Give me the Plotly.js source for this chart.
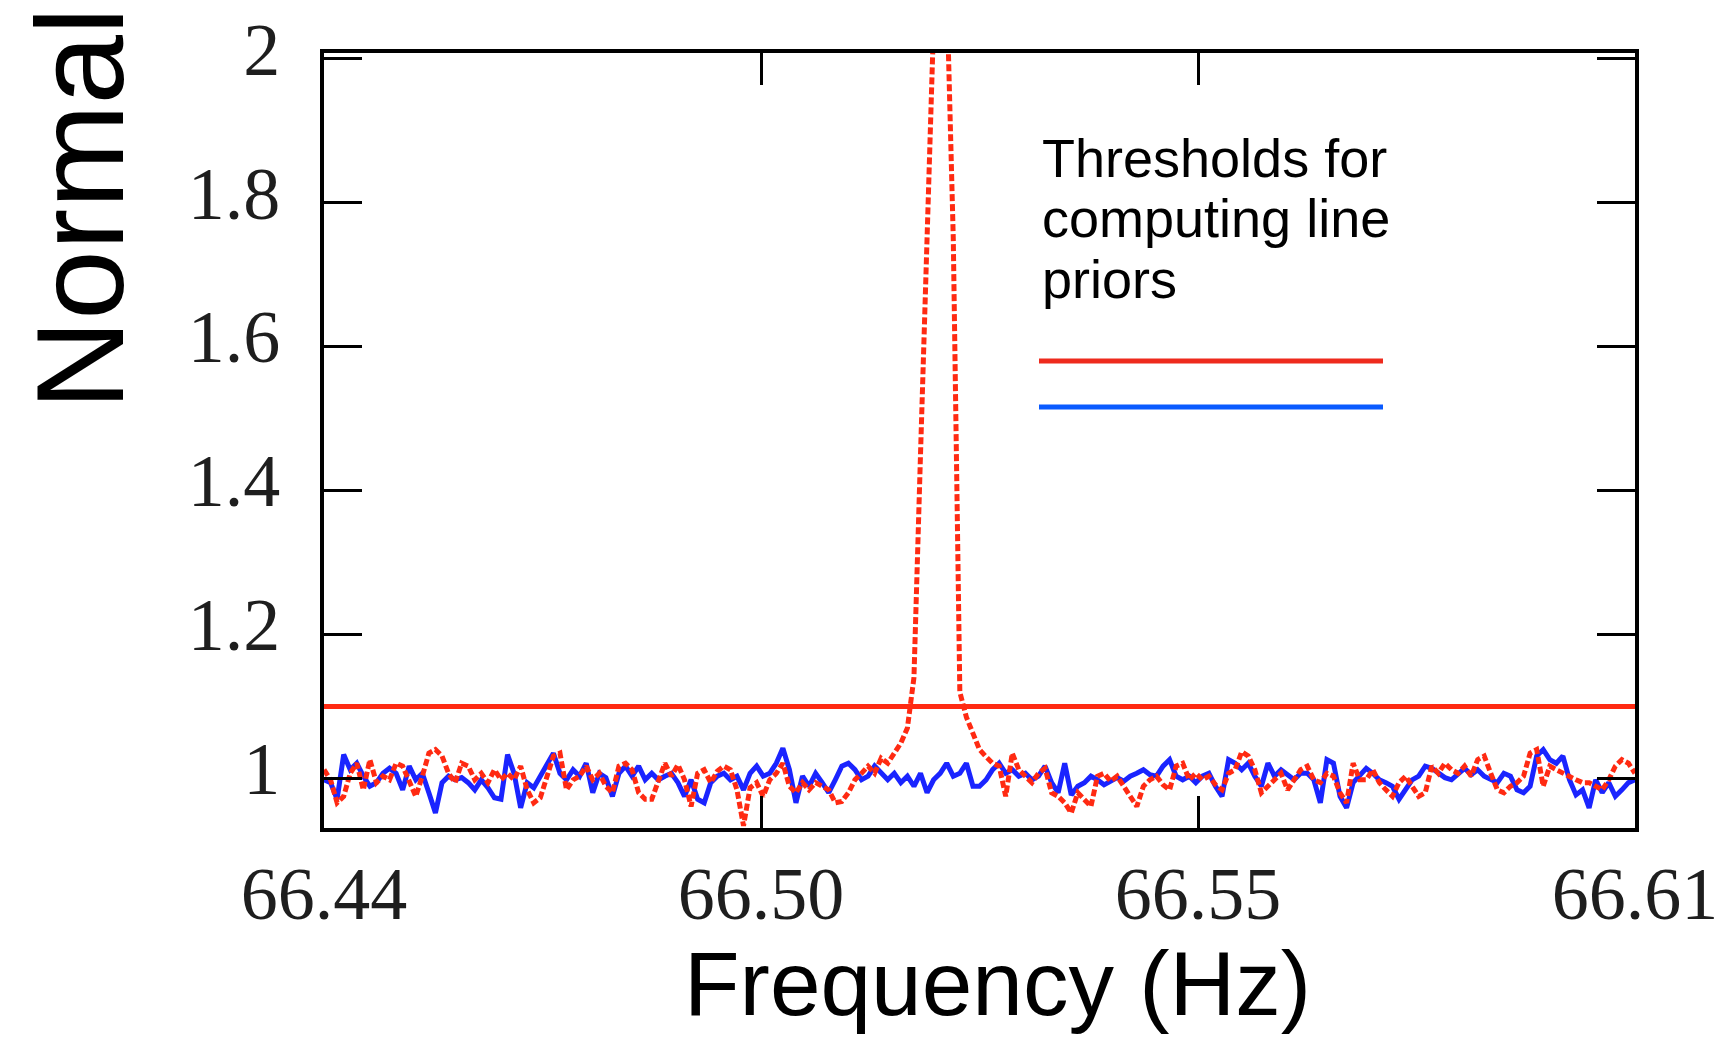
<!DOCTYPE html>
<html>
<head>
<meta charset="utf-8">
<script src="https://cdn.plot.ly/plotly-3.0.1.min.js"></script>
<style>html,body{margin:0;padding:0;background:#fff;}#chart{width:1732px;height:1041px;}</style>
</head>
<body>
<div id="chart"></div>
<script>
// Frequency grid (Hz)
const freqStart = 66.45;
const freqStep = 0.00075;

// Normalized power, blue series (solid)
const blueSeries = [
  0.998, 0.994, 0.971, 1.033, 1.012, 1.021, 1.003, 0.989, 0.994, 1.007,
  1.014, 1.007, 0.984, 1.017, 0.998, 1.007, 0.980, 0.952, 0.994, 1.003,
  0.998, 1.001, 0.994, 0.984, 0.998, 0.987, 0.973, 0.971, 1.033, 1.007,
  0.959, 0.994, 0.987, 1.003, 1.021, 1.035, 1.007, 0.998, 1.012, 1.003,
  1.021, 0.980, 1.007, 1.001, 0.975, 1.007, 1.017, 1.003, 1.017, 0.998,
  1.007, 0.998, 1.003, 1.007, 0.994, 0.975, 0.998, 0.971, 0.966, 0.994,
  1.003, 1.007, 0.998, 1.003, 0.984, 1.007, 1.017, 1.003, 1.007, 1.021,
  1.042, 1.012, 0.966, 1.003, 0.989, 1.007, 0.994, 0.980, 0.998, 1.017,
  1.021, 1.012, 0.998, 1.003, 1.017, 1.007, 0.998, 1.007, 0.994, 1.003,
  0.989, 1.007, 0.980, 0.998, 1.007, 1.021, 1.003, 1.007, 1.021, 0.989,
  0.989, 0.998, 1.012, 1.021, 1.007, 1.012, 1.003, 1.007, 0.998, 1.003,
  1.017, 0.994, 0.980, 1.021, 0.977, 0.989, 0.994, 1.003, 0.998, 0.991,
  0.996, 1.001, 0.996, 1.003, 1.007, 1.012, 1.005, 1.003, 1.017, 1.026,
  1.003, 0.998, 1.003, 0.994, 1.003, 1.007, 0.989, 0.975, 1.026, 1.021,
  1.012, 1.021, 1.003, 0.989, 1.021, 1.003, 1.012, 1.005, 0.998, 1.007,
  1.007, 0.998, 0.966, 1.026, 1.021, 0.975, 0.959, 0.994, 1.003, 1.014,
  1.007, 0.998, 0.994, 0.989, 0.971, 0.984, 0.998, 1.003, 1.017, 1.014,
  1.007, 1.001, 0.998, 1.007, 1.014, 1.005, 1.012, 1.003, 0.998, 0.994,
  1.007, 1.003, 0.984, 0.980, 0.989, 1.031, 1.040, 1.026, 1.021, 1.031,
  0.998, 0.977, 0.984, 0.959, 0.998, 0.980, 0.994, 0.975, 0.984, 0.994,
  0.998
];

// Normalized power, red series (dashed) with the spectral line
const redSeries = [
  1.012, 0.998, 0.966, 0.975, 1.007, 1.021, 0.984, 1.026, 0.994, 1.003,
  0.998, 1.021, 1.017, 0.994, 0.975, 1.003, 1.035, 1.040, 1.031, 1.007,
  0.994, 1.021, 1.017, 0.998, 1.007, 0.994, 1.012, 0.998, 1.007, 0.998,
  1.017, 0.984, 0.966, 0.973, 1.003, 1.031, 1.035, 0.984, 0.998, 1.003,
  1.017, 0.998, 1.007, 0.989, 0.980, 1.017, 1.021, 1.012, 0.980, 0.971,
  0.971, 0.998, 1.021, 1.003, 1.019, 0.998, 0.961, 1.007, 1.012, 0.994,
  1.010, 1.017, 1.012, 0.984, 0.934, 0.987, 0.994, 0.975, 0.998, 1.007,
  1.021, 0.989, 0.980, 0.994, 0.984, 0.994, 0.989, 0.984, 0.966, 0.968,
  0.980, 0.998, 1.007, 1.017, 1.007, 1.028, 1.021, 1.035, 1.049, 1.070,
  1.140, 1.450, 1.750, 2.050, 3.500, 2.100, 1.750, 1.120, 1.085, 1.060,
  1.040, 1.030, 1.021, 1.017, 0.975, 1.035, 1.012, 1.003, 0.994, 1.007,
  1.014, 0.980, 0.975, 0.966, 0.952, 0.980, 0.971, 0.961, 1.003, 1.007,
  0.996, 1.003, 0.989, 0.975, 0.961, 0.989, 0.998, 1.003, 0.991, 0.984,
  1.017, 1.021, 0.998, 1.007, 0.998, 1.003, 0.991, 0.984, 1.007, 1.012,
  1.037, 1.031, 1.012, 0.980, 0.989, 0.998, 1.007, 0.984, 0.998, 1.012,
  1.017, 0.998, 0.994, 1.007, 1.003, 0.980, 0.966, 1.021, 0.998, 0.998,
  1.012, 0.994, 0.984, 0.975, 0.994, 1.003, 0.989, 0.975, 0.980, 1.017,
  1.007, 1.021, 1.012, 1.007, 1.017, 1.003, 1.026, 1.031, 1.007, 0.984,
  0.980, 0.989, 0.994, 1.003, 1.035, 1.040, 0.989, 1.017, 1.012, 1.007,
  1.003, 0.998, 0.994, 0.994, 0.989, 0.984, 0.998, 1.017, 1.026, 1.021,
  1.007
];

// Threshold level for both series
const thresholdLevel = 1.1;

// Tick positions and labels
const xTickVals = [66.45, 66.50, 66.55, 66.60];
const xTickText = ["66.44", "66.50", "66.55", "66.61"];
const yTickVals = [1.0, 1.2, 1.4, 1.6, 1.8, 2.0];
const yTickText = ["1", "1.2", "1.4", "1.6", "1.8", "2"];

// Texts
const xTitle = "Frequency (Hz)";
const yTitle = "Normal";
const legendLines = ["Thresholds for", "computing line", "priors"];

const freq = blueSeries.map((_, i) => +(freqStart + i * freqStep).toFixed(5));
const thrX = [freq[0], freq[freq.length - 1]];

const RED = "#ff2a12";
const BLUE = "#1a24ff";

const traces = [
  {x: freq, y: blueSeries, type: "scatter", mode: "lines",
   line: {color: BLUE, width: 5}, hoverinfo: "skip"},
  {x: freq, y: redSeries, type: "scatter", mode: "lines",
   line: {color: RED, width: 5, dash: "7px,3px"}, hoverinfo: "skip"},
  {x: thrX, y: [thresholdLevel, thresholdLevel], type: "scatter", mode: "lines",
   line: {color: BLUE, width: 4}, hoverinfo: "skip"},
  {x: thrX, y: [thresholdLevel, thresholdLevel], type: "scatter", mode: "lines",
   line: {color: RED, width: 5}, hoverinfo: "skip"}
];

const sans = "Liberation Sans, Arial, Helvetica, sans-serif";
const serif = "Liberation Serif, Times New Roman, serif";

const PL = 324, PR = 97, PT = 53, PB = 213;
const W = 1732, H = 1041;
const pw = W - PL - PR, ph = H - PT - PB;
const px = v => (v - PL) / pw;      // pixel x -> paper
const py = v => (H - PB - v) / ph;  // pixel y -> paper

const annotations = [
  {text: xTitle, xref: "paper", yref: "paper", x: px(997), y: py(983),
   xanchor: "center", yanchor: "middle", showarrow: false,
   font: {family: sans, size: 91, color: "#000"}},
  {text: yTitle, xref: "paper", yref: "paper", x: px(80), y: py(208),
   xanchor: "center", yanchor: "middle", showarrow: false, textangle: -90,
   font: {family: sans, size: 125, color: "#000"}}
];
const lineBaselines = [158, 218, 279];
legendLines.forEach((t, k) => {
  annotations.push({text: t, xref: "paper", yref: "paper", x: px(1040), y: py(lineBaselines[k]),
    xanchor: "left", yanchor: "middle", showarrow: false,
    font: {family: sans, size: 54, color: "#000"}});
});

const shapes = [
  {type: "line", xref: "paper", yref: "paper", x0: px(1039), x1: px(1383), y0: py(361), y1: py(361),
   line: {color: "#ee2a1d", width: 5}},
  {type: "line", xref: "paper", yref: "paper", x0: px(1039), x1: px(1383), y0: py(407), y1: py(407),
   line: {color: "#0a5bff", width: 5}}
];

const layout = {
  width: W, height: H,
  margin: {l: PL, r: PR, t: PT, b: PB, pad: 0},
  paper_bgcolor: "#ffffff", plot_bgcolor: "#ffffff",
  showlegend: false,
  xaxis: {
    range: [66.45, 66.60], tickmode: "array", tickvals: xTickVals, ticktext: xTickText,
    ticks: "inside", ticklen: 32, tickwidth: 3, tickcolor: "#000",
    showline: true, linewidth: 4, linecolor: "#000", mirror: "ticks",
    showgrid: false, zeroline: false, ticklabelstandoff: -2,
    tickfont: {family: serif, size: 74, color: "#1e1e1e"}
  },
  yaxis: {
    range: [0.931, 2.008], tickmode: "array", tickvals: yTickVals, ticktext: yTickText,
    ticks: "inside", ticklen: 38, tickwidth: 3, tickcolor: "#000",
    showline: true, linewidth: 4, linecolor: "#000", mirror: "ticks",
    showgrid: false, zeroline: false, ticklabelstandoff: 25, ticklabelshift: -10,
    tickfont: {family: serif, size: 74, color: "#1e1e1e"}
  },
  annotations: annotations,
  shapes: shapes
};

Plotly.newPlot("chart", traces, layout, {staticPlot: true, displayModeBar: false});
</script>
</body>
</html>
